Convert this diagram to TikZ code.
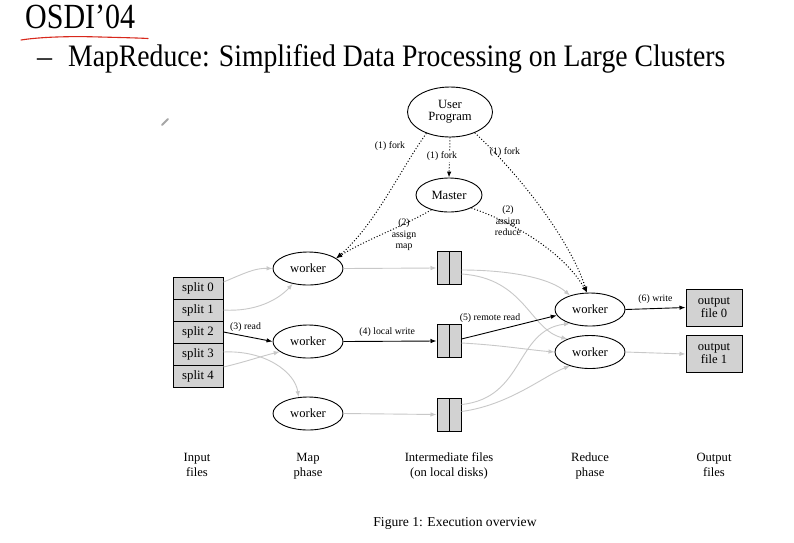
\documentclass[tikz,border=0pt]{standalone}
\usepackage{fontspec}
\setmainfont{Liberation Serif}
\usetikzlibrary{shapes.geometric,arrows.meta,calc}
\definecolor{edgegray}{HTML}{C8C8C8}
\definecolor{boxgray}{HTML}{D2D2D2}
\definecolor{annored}{HTML}{D8281C}
\tikzset{
  wk/.style={ellipse,draw,line width=0.9pt,minimum width=70pt,minimum height=33pt,inner sep=0pt,font=\fontsize{12.6}{14}\selectfont},
  splitbox/.style={rectangle,draw,line width=1pt,fill=boxgray,minimum width=50pt,minimum height=22pt,inner sep=0pt,font=\fontsize{12.8}{14}\selectfont},
  ifile/.style={rectangle,draw,line width=1pt,fill=boxgray,minimum width=24pt,minimum height=33pt,inner sep=0pt,
     path picture={\draw[line width=1pt] (path picture bounding box.north) -- (path picture bounding box.south);}},
  outbox/.style={rectangle,draw,line width=1pt,fill=boxgray,minimum width=56pt,minimum height=37pt,inner sep=0pt,align=center,font=\fontsize{12.6}{13}\selectfont},
  lbl/.style={font=\fontsize{9.8}{11.5}\selectfont,align=center,inner sep=0pt},
  bot/.style={font=\fontsize{12.6}{15}\selectfont,align=center,inner sep=0pt,text depth=0pt,anchor=base},
  tip/.style={-{Latex[length=6pt,width=4.5pt]}},
  blk/.style={tip,line width=0.9pt,black},
  gry/.style={tip,line width=0.9pt,edgegray},
  dots/.style={tip,line width=1pt,black,dotted},
}
\begin{document}
\begin{tikzpicture}[x=1pt,y=-1pt]
\useasboundingbox[fill=white] (0,0) rectangle (794,542);

% title
\node[anchor=base west,inner sep=0pt] (title) at (25,28) {\resizebox{110pt}{23.5pt}{OSDI’04}};
\draw[annored,line width=1.1pt,line cap=round] (21,40) .. controls (40,37) and (70,36) .. (100,37) .. controls (120,37.5) and (140,38) .. (148,38.5);
\node[anchor=base west,inner sep=0pt] (dash) at (37,66) {\resizebox{15pt}{!}{–}};
\node[anchor=base west,inner sep=0pt] (subtitle) at (68,66) {\resizebox{657pt}{22pt}{MapReduce: Simplified Data Processing on Large Clusters}};
% pencil cursor
\draw[gray!70,line width=2pt,line cap=round] (162,125) -- (168,119);

% nodes
\node[wk,minimum width=85pt,minimum height=50pt] (up) at (450,112) {\begin{tabular}{@{}c@{}}User\\[-2pt]Program\end{tabular}};
\node[wk,minimum width=66pt,minimum height=34pt] (m) at (449,195) {Master};

\node[splitbox] (s0) at (198,288) {split 0};
\node[splitbox] (s1) at (198,310) {split 1};
\node[splitbox] (s2) at (198,332) {split 2};
\node[splitbox] (s3) at (198,354) {split 3};
\node[splitbox] (s4) at (198,376) {split 4};

\node[wk] (w1) at (308,268.5) {worker};
\node[wk] (w2) at (308,341.5) {worker};
\node[wk] (w3) at (308,413.5) {worker};

\node[ifile] (f1) at (449,268) {};
\node[ifile] (f2) at (449,341) {};
\node[ifile] (f3) at (449,414.5) {};

\node[wk] (r1) at (590,309.5) {worker};
\node[wk] (r2) at (590,352) {worker};

\node[outbox] (o0) at (714,307.5) {output\\file 0};
\node[outbox] (o1) at (714,354) {output\\file 1};

% bottom labels
\node[bot] (lin) at (197,476) {Input\\files};
\node[bot] (lmap) at (308,476) {Map\\phase};
\node[bot] (lint) at (449,476) {Intermediate files\\(on local disks)};
\node[bot] (lred) at (590,476) {Reduce\\phase};
\node[bot] (lout) at (714,476) {Output\\files};
\node[inner sep=0pt,font=\fontsize{13.6}{15}\selectfont] (cap) at (455,523) {Figure 1: Execution overview};

% input -> map
\draw[gry] ($(s0.east)+(0,-6)$) .. controls (245,273) and (255,268) .. (w1.west);
\draw[gry] (s1.east) .. controls (255,312) and (278,300) .. (w1.225);
\draw[blk] (s2.east) -- node[lbl,above=4pt,pos=0.45] (l3) {(3) read} (w2.west);
\draw[gry] ($(s3.east)+(0,-2)$) .. controls (265,350) and (295,372) .. (w3.120);
\draw[gry] ($(s4.east)+(0,-9)$) .. controls (245,362) and (262,356) .. (w2.200);

% map -> intermediate
\draw[gry] (w1.east) -- (f1.west);
\draw[blk] (w2.east) -- node[lbl,above=4pt,pos=0.47] (l4) {(4) local write} (f2.west);
\draw[gry] (w3.east) -- (f3.west);

% intermediate -> reduce
\draw[gry] ($(f1.east)+(0,2)$) .. controls (510,270) and (550,278) .. (r1.145);
\draw[gry] ($(f1.east)+(0,6)$) .. controls (525,278) and (530,330) .. (r2.150);
\draw[gry] ($(f2.east)+(0,2)$) .. controls (500,345) and (530,350) .. (r2.180);
\draw[gry] ($(f3.east)+(0,-10)$) .. controls (525,398) and (515,330) .. (r1.215);
\draw[gry] ($(f3.east)+(0,-3)$) .. controls (510,405) and (545,375) .. (r2.215);
\draw[blk] ($(f2.east)+(0,-2)$) -- (r1.190);
\node[lbl] (l5) at (490,318) {(5) remote read};

% reduce -> output
\draw[blk] (r1.east) -- node[lbl,above=4pt,pos=0.5] (l6) {(6) write} (o0.west);
\draw[gry] (r2.east) -- (o1.west);

% control (dotted)
\draw[dots] (up.222) .. controls (400,170) and (375,225) .. (w1.20);
\node[lbl] (lf1) at (390,146) {(1) fork};
\draw[dots] (up.south) -- (m.north);
\node[lbl,fill=white,inner sep=1pt] (lf2) at (442,156) {(1) fork};
\draw[dots] (up.320) .. controls (520,175) and (570,240) .. (r1.100);
\node[lbl] (lf3) at (505,152) {(1) fork};
\draw[dots] (m.220) .. controls (400,228) and (365,240) .. (w1.20);
\node[lbl] (la2) at (404,235) {(2)\\assign\\map};
\draw[dots] (m.330) .. controls (520,225) and (565,255) .. (r1.100);
\node[lbl] (lr2) at (508,221) {(2)\\assign\\reduce};
\end{tikzpicture}
\end{document}
